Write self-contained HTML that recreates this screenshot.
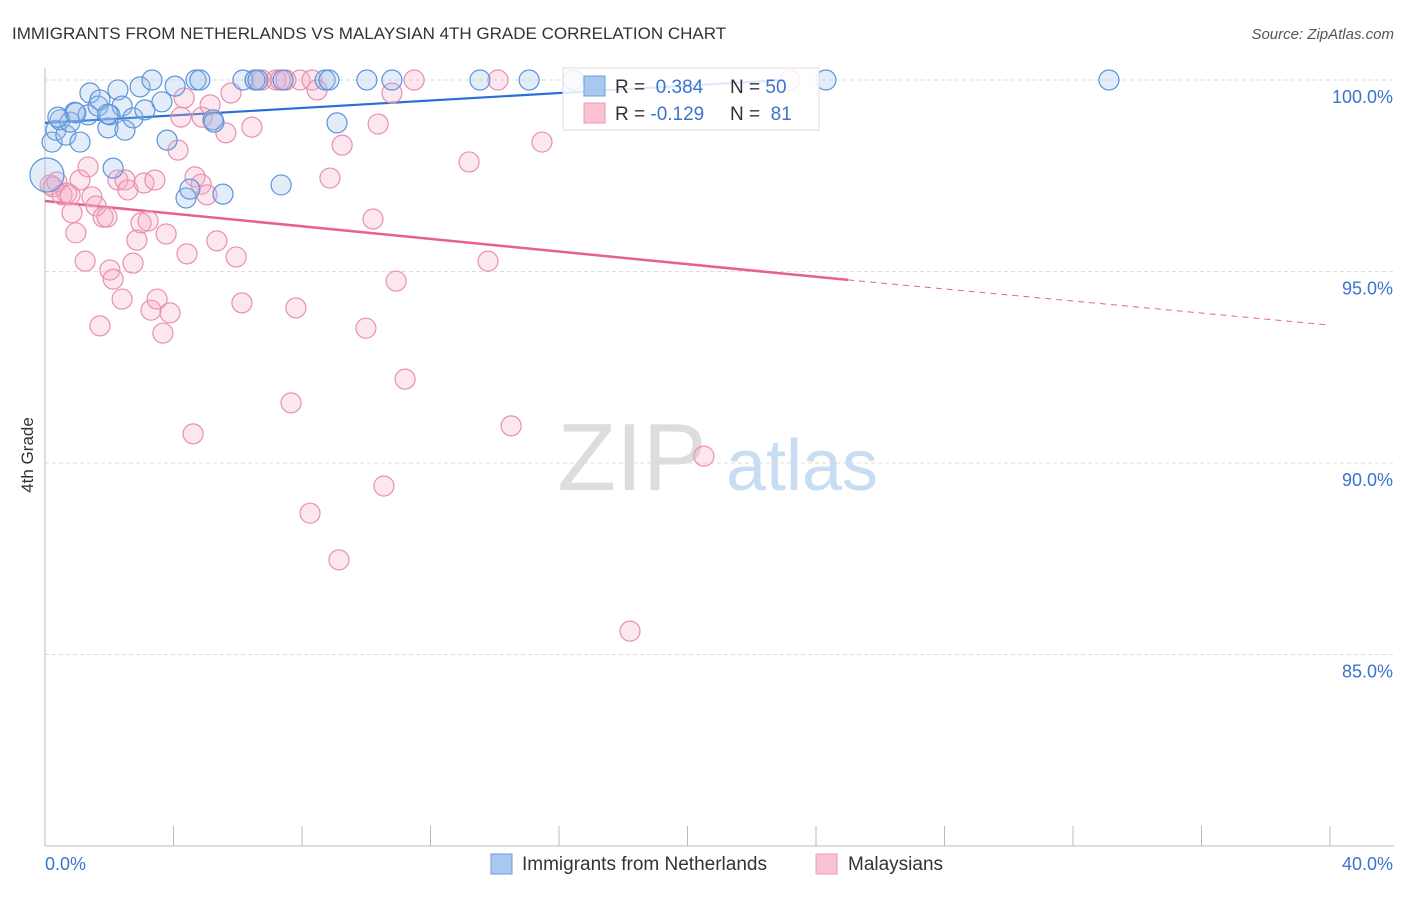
<!DOCTYPE html>
<html><head><meta charset="utf-8"><style>
body{margin:0;background:#fff;font-family:"Liberation Sans",sans-serif;}
svg text{font-family:"Liberation Sans",sans-serif;}
</style></head><body>
<svg id="chart" width="1406" height="892">
<text x="12" y="39" font-size="17" fill="#333">IMMIGRANTS FROM NETHERLANDS VS MALAYSIAN 4TH GRADE CORRELATION CHART</text>
<text x="1394" y="39" font-size="15" fill="#555" text-anchor="end" font-style="italic">Source: ZipAtlas.com</text>
<text x="33" y="455" font-size="17" fill="#333" transform="rotate(-90 33 455)" text-anchor="middle">4th Grade</text>
<g>
<text x="632" y="490" font-size="96" fill="#ddd" text-anchor="middle" font-family="Liberation Serif">ZIP</text>
<text x="802" y="490" font-size="72" fill="#c8dcf2" text-anchor="middle">atlas</text>
</g>
<g id="grid"></g><g id="axes"></g><g id="lines"></g><g id="pts"></g>
<g>
<rect x="563" y="68" width="256" height="62" fill="#fff" fill-opacity="0.85" stroke="#ddd"/>
<rect x="584" y="76" width="21" height="20" fill="#a9c8ef" stroke="#6a9ee0"/>
<rect x="584" y="103" width="21" height="20" fill="#f9c3d3" stroke="#eb9ab6"/>
<text x="615" y="93" font-size="19" fill="#333">R = <tspan fill="#3a74d0">&#160;0.384</tspan></text>
<text x="730" y="93" font-size="19" fill="#333">N = <tspan fill="#3a74d0">50</tspan></text>
<text x="615" y="120" font-size="19" fill="#333">R = <tspan fill="#3a74d0">-0.129</tspan></text>
<text x="730" y="120" font-size="19" fill="#333">N = <tspan fill="#3a74d0">&#160;81</tspan></text>
</g>
<g>
<rect x="491" y="854" width="21" height="20" fill="#a9c8ef" stroke="#6a9ee0"/>
<text x="522" y="870" font-size="19" fill="#333">Immigrants from Netherlands</text>
<rect x="816" y="854" width="21" height="20" fill="#f9c3d3" stroke="#eb9ab6"/>
<text x="848" y="870" font-size="19" fill="#333">Malaysians</text>
</g>
</svg>
<script>
const yTicks=[100,95,90,85];
const yTickLabels=["100.0%","95.0%","90.0%","85.0%"];
const xTickLabels=["0.0%","40.0%"];
const blueX=[0.22,0.34,0.47,0.65,0.78,0.93,1.09,1.34,1.40,1.65,1.71,1.96,2.02,2.27,2.40,2.49,2.74,2.96,3.11,3.33,3.64,3.80,4.05,4.39,4.51,4.70,4.82,5.23,5.54,6.16,6.54,6.63,7.41,7.35,8.72,8.84,9.09,10.02,10.80,13.54,15.07,16.44,24.31,33.12,0.06,2.12,1.96,0.96,0.40,5.26];
const blueY=[98.38,98.69,98.96,98.56,98.90,99.16,98.38,99.09,99.66,99.32,99.48,98.75,99.09,99.74,99.32,98.69,99.01,99.82,99.22,100,99.43,98.43,99.84,96.92,97.15,100,100,98.96,97.02,100,100,100,100,97.26,100,100,98.88,100,100,100,100,100,100,100,97.52,97.70,99.11,99.14,99.03,98.90];
const pinkX=[0.16,0.25,0.37,0.53,0.68,0.78,0.84,0.96,1.09,1.25,1.34,1.46,1.59,1.71,1.81,1.93,2.02,2.12,2.27,2.40,2.49,2.58,2.74,2.86,2.99,3.08,3.21,3.30,3.42,3.49,3.67,3.77,3.89,4.14,4.23,4.33,4.42,4.61,4.67,4.86,4.89,5.04,5.14,5.23,5.35,5.63,5.79,5.95,6.13,6.44,6.54,6.75,7.19,7.32,7.50,7.66,7.81,7.94,8.25,8.31,8.47,8.87,9.15,9.25,9.99,10.21,10.37,10.55,10.80,10.93,11.21,11.49,13.20,13.79,14.10,14.51,15.47,16.44,18.21,20.51,23.19];
const pinkY=[97.26,97.21,97.34,97.00,97.05,97.00,96.53,96.01,97.39,95.27,97.73,96.95,96.71,93.58,96.42,96.42,95.04,94.80,97.39,94.28,97.39,97.13,95.22,95.82,96.27,97.31,96.32,93.99,97.39,94.28,93.39,95.98,93.92,98.17,99.03,99.53,95.46,90.76,97.47,97.28,99.03,97.00,99.35,98.96,95.80,98.62,99.66,95.38,94.18,98.77,100,100,100,100,100,91.57,94.05,100,88.69,100,99.74,97.44,87.47,98.30,93.52,96.37,98.85,89.40,99.66,94.75,92.19,100,97.86,95.27,100,90.97,98.38,100,85.61,90.18,100];
const blueTrend=[[0,98.88],[23,100]];
const pinkTrend=[[0,96.84],[25,94.78]];
const pinkTrendExt=[[25,94.78],[40,93.6]];
const NS="http://www.w3.org/2000/svg";
const X=v=>45+v*32.125, Y=v=>80+(100-v)*38.3;
function mk(tag,attrs,parent){const e=document.createElementNS(NS,tag);for(const k in attrs)e.setAttribute(k,attrs[k]);document.getElementById(parent).appendChild(e);return e;}
yTicks.forEach((t,i)=>{
 let l=mk('line',{x1:45,x2:1394,y1:Y(t),y2:Y(t),stroke:'#ddd','stroke-dasharray':'4,3'},'grid');
 
 
 let tx=mk('text',{x:1393,y:Y(t)+23,'font-size':18,fill:'#3a74d0','text-anchor':'end'},'axes');tx.textContent=yTickLabels[i];
 
 
});
mk('line',{x1:45,x2:45,y1:68,y2:846,stroke:'#bbb'},'axes');
mk('line',{x1:45,x2:1394,y1:846,y2:846,stroke:'#bbb'},'axes');
for(let i=0;i<=10;i++){let t=mk('line',{x1:X(i*4),x2:X(i*4),y1:826,y2:846,stroke:'#bbb'},'axes');}
let a=mk('text',{x:45,y:870,'font-size':18,fill:'#3a74d0'},'axes');a.textContent=xTickLabels[0];


let b=mk('text',{x:1393,y:870,'font-size':18,fill:'#3a74d0','text-anchor':'end'},'axes');b.textContent=xTickLabels[1];


function pts(xs,ys,fill,stroke,name){xs.forEach((x,i)=>{let r=(name==='blue-point'&&i===44)?17:10;let c=mk('circle',{cx:X(x),cy:Y(ys[i]),r:r,fill:fill,'fill-opacity':0.28,stroke:stroke,'stroke-width':1.2},'pts');
 
 });}
pts(pinkX,pinkY,'#f7a8c2','#e88fb0','pink-point');
pts(blueX,blueY,'#9cc0ee','#5b94d9','blue-point');
function line(p,col,w,dash,name){let l=mk('line',{x1:X(p[0][0]),y1:Y(p[0][1]),x2:X(p[1][0]),y2:Y(p[1][1]),stroke:col,'stroke-width':w},'lines');if(dash)l.setAttribute('stroke-dasharray',dash);
 
 }
line(blueTrend,'#2a6fd6',2.2,null,'blue-trend-line');
line(pinkTrend,'#e8608e',2.5,null,'pink-trend-line');
line(pinkTrendExt,'#e8608e',1,'6,5','pink-trend-extension');
</script>
</body></html>
